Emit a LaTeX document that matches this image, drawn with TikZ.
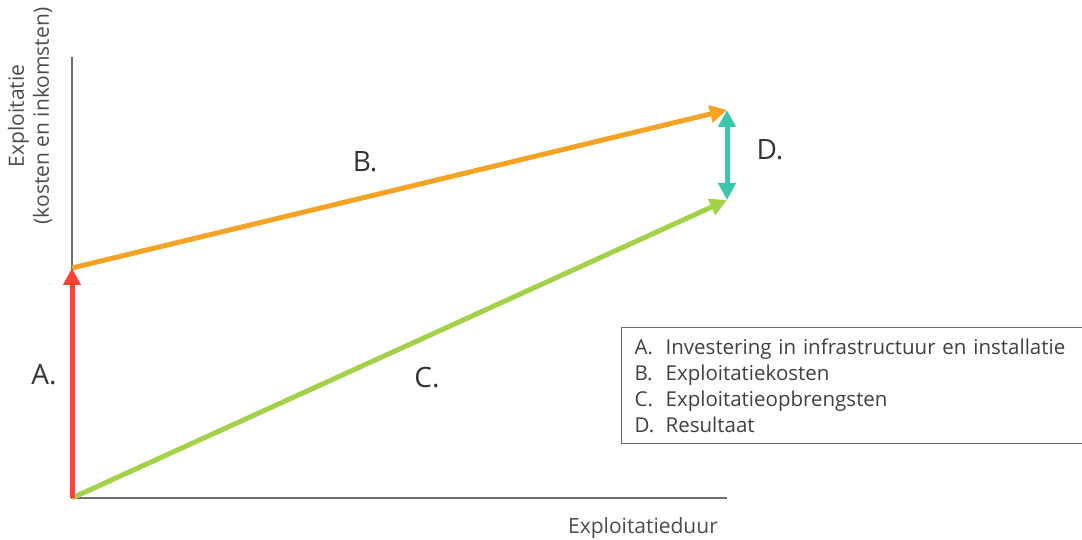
\documentclass[tikz,border=0pt]{standalone}
\usepackage{fontspec}
\setmainfont{Open Sans}
\usetikzlibrary{arrows.meta}

\definecolor{invest}{HTML}{FF4136}
\definecolor{kosten}{HTML}{F5A324}
\definecolor{opbr}{HTML}{A3D149}
\definecolor{result}{HTML}{3CC6AA}
\definecolor{axisgray}{HTML}{6E6E6E}

\newcommand{\legitem}[2]{\makebox[31pt][l]{#1}#2}

\begin{document}
\begin{tikzpicture}[x=1pt, y=1pt,
    flow/.style={line width=5pt, -{Triangle[length=17pt, width=17pt]}},
    letter/.style={font=\fontsize{28}{28}\selectfont, text=black!80},
    axlabel/.style={font=\fontsize{21}{25}\selectfont, text=black!70, align=center}]

    \useasboundingbox (0,0) rectangle (1082,540);

    % Key points
    \coordinate (O) at (72,42);
    \coordinate (a) at (72,272);
    \coordinate (b) at (727,430);
    \coordinate (c) at (727,340);
    \coordinate (ytop) at (72,483);
    \coordinate (xend) at (727,42);

    % Axes
    \draw[axisgray, line width=1.3pt] (ytop) -- (O) -- (xend);
    \node[axlabel, rotate=90] (ylab) at (30,424) {Exploitatie\\(kosten en inkomsten)};
    \node[axlabel] (xlab) at (643,12) {Exploitatieduur};

    % Flows
    \draw[flow, kosten] (a) -- (b);
    \draw[flow, opbr] (O) -- (c);
    \draw[flow, invest] (O) -- (a);
    \draw[result, line width=5pt, {Triangle[length=17pt, width=17pt]}-{Triangle[length=17pt, width=17pt]}] (c) -- (b);

    % Letters
    \node[letter] (la) at (44,165) {A.};
    \node[letter] (lb) at (365,378) {B.};
    \node[letter] (lc) at (427,162) {C.};
    \node[letter] (ld) at (770,390) {D.};

    % Legend
    \node[draw=axisgray, line width=1.3pt, anchor=north west, inner xsep=13pt, inner ysep=11pt,
          text width=435pt, font=\fontsize{20.5}{26}\selectfont, text=black!75] (legend) at (621,213)
      {\legitem{A.}{Investering in infrastructuur en installatie}\\
       \legitem{B.}{Exploitatiekosten}\\
       \legitem{C.}{Exploitatieopbrengsten}\\
       \legitem{D.}{Resultaat}};

\end{tikzpicture}
\end{document}
